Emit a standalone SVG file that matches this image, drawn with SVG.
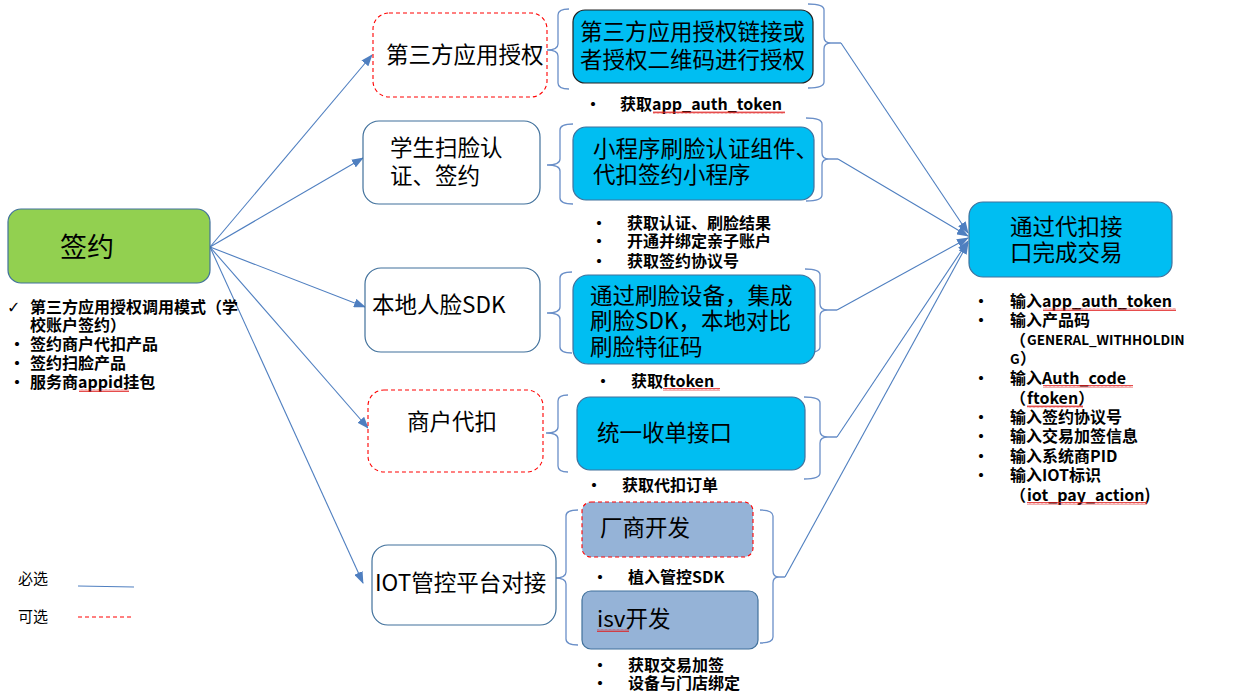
<svg xmlns="http://www.w3.org/2000/svg" width="1235" height="698" viewBox="0 0 1235 698">
<style>
text{font-family:"Noto Sans CJK SC","Microsoft YaHei",sans-serif;fill:#000}
.big{font-size:22.5px}
.note{font-size:16px;font-weight:bold}
.small{font-size:13.5px;font-weight:bold}
.leg{font-size:15px}
.solid{fill:#fff;stroke:#41719c;stroke-width:1.2}
.dash{fill:#fff;stroke:#ff0000;stroke-width:1.1;stroke-dasharray:4 3}
.cyan{fill:#00bef2;stroke:#41719c;stroke-width:1.2}
.grey{fill:#95b3d7;stroke:#41719c;stroke-width:1.2}
.brace{fill:none;stroke:#6a8fc8;stroke-width:1.3}
.conn{fill:none;stroke:#4f7fc0;stroke-width:1.1;marker-end:url(#ah)}
.wave{fill:url(#wv)}
</style>
<defs>
<marker id="ah" markerWidth="12" markerHeight="9" refX="11" refY="4.5" orient="auto" markerUnits="userSpaceOnUse">
<path d="M0,0 L12,4.5 L0,9 z" fill="#4f7fc0"/>
</marker>
<pattern id="wv" width="4" height="3" patternUnits="userSpaceOnUse">
<path d="M0,2.5 L1,0.5 L2,2.5 L3,0.5 L4,2.5" fill="none" stroke="#e02020" stroke-width="0.8"/>
</pattern>
</defs>
<rect width="1235" height="698" fill="#fff"/>

<g id="connectors">
<line class="conn" x1="210" y1="247" x2="372" y2="55"/>
<line class="conn" x1="210" y1="247" x2="363" y2="158"/>
<line class="conn" x1="210" y1="247" x2="365" y2="307"/>
<line class="conn" x1="210" y1="247" x2="368" y2="428"/>
<line class="conn" x1="210" y1="247" x2="363" y2="583"/>
<line class="conn" x1="841" y1="43" x2="968" y2="233"/>
<line class="conn" x1="838" y1="159" x2="968" y2="236"/>
<line class="conn" x1="837" y1="310" x2="968" y2="238"/>
<line class="conn" x1="837" y1="437" x2="968" y2="241"/>
<line class="conn" x1="785" y1="577" x2="968" y2="243"/>
</g>

<g id="braces">
<path class="brace" d="M569,9 Q558,9 558,15 L558,44 Q558,50 547,50 Q558,50 558,56 L558,83 Q558,89 569,89"/>
<path class="brace" d="M808,4 Q824,4 824,10 L824,37 Q824,43 831,43 L841,43 M831,43 Q824,43 824,49 L824,82 Q824,88 808,88"/>
<path class="brace" d="M573,124 Q560,124 560,130 L560,159 Q560,165 547,165 Q560,165 560,171 L560,198 Q560,204 573,204"/>
<path class="brace" d="M806,118 Q822,118 822,124 L822,153 Q822,159 829,159 L838,159 M829,159 Q822,159 822,165 L822,195 Q822,201 806,201"/>
<path class="brace" d="M572,272 Q560,272 560,278 L560,307 Q560,313 547,313 Q560,313 560,319 L560,347 Q560,353 572,353"/>
<path class="brace" d="M805,269 Q820,269 820,275 L820,304 Q820,310 828,310 L837,310 M828,310 Q820,310 820,316 L820,347 Q820,353 803,353"/>
<path class="brace" d="M568,395 Q558,395 558,401 L558,427 Q558,433 546,433 Q558,433 558,439 L558,466 Q558,472 568,472"/>
<path class="brace" d="M804,397 Q820,397 820,403 L820,431 Q820,437 828,437 L837,437 M828,437 Q820,437 820,443 L820,473 Q820,479 804,479"/>
<path class="brace" d="M578,510 Q566,510 566,516 L566,572 Q566,578 555,578 Q566,578 566,584 L566,639 Q566,645 578,645"/>
<path class="brace" d="M760,510 Q773,510 773,516 L773,571 Q773,577 779,577 L785,577 M779,577 Q773,577 773,583 L773,637 Q773,643 760,643"/>
</g>

<g id="n-qianyue">
<rect x="8" y="209" width="202" height="74" rx="13" fill="#92d050" stroke="#41719c" stroke-width="1.2"/>
<text x="60" y="257" style="font-size:27px">签约</text>
</g>

<g id="n-qianyue-notes">
<text x="7" y="313" style="font-size:16px;font-family:'DejaVu Sans',sans-serif">✓</text>
<text x="30" y="313" class="note">第三方应用授权调用模式（学</text>
<text x="30" y="331" class="note">校账户签约）</text>
<text x="9" y="350" class="note">•</text><text x="30" y="350" class="note">签约商户代扣产品</text>
<text x="9" y="369" class="note">•</text><text x="30" y="369" class="note">签约扫脸产品</text>
<text x="9" y="388" class="note">•</text><text x="30" y="388" class="note">服务商appid挂包</text>
<rect class="wave" x="79" y="389" width="50" height="3"/>
</g>

<g id="n-disanfang">
<rect class="dash" x="373" y="13" width="174" height="84" rx="16"/>
<text x="386" y="63" class="big">第三方应用授权</text>
</g>
<g id="n-xuesheng">
<rect class="solid" x="363" y="121" width="177" height="83" rx="16"/>
<text x="390" y="156" class="big">学生扫脸认</text>
<text x="390" y="184" class="big">证、签约</text>
</g>
<g id="n-bendi">
<rect class="solid" x="365" y="268" width="175" height="84" rx="16"/>
<text x="372" y="313" class="big">本地人脸SDK</text>
</g>
<g id="n-shanghu">
<rect class="dash" x="368" y="390" width="175" height="82" rx="16"/>
<text x="407" y="430" class="big">商户代扣</text>
</g>
<g id="n-iot">
<rect class="solid" x="372" y="545" width="184" height="80" rx="16"/>
<text x="375" y="591" class="big">IOT管控平台对接</text>
</g>

<g id="m-auth">
<rect x="573" y="10" width="240" height="73" rx="12" fill="#00bef2" stroke="#222" stroke-width="1.2"/>
<text x="580" y="40" class="big">第三方应用授权链接或</text>
<text x="580" y="68" class="big">者授权二维码进行授权</text>
<text x="585" y="110" class="note">•</text><text x="620" y="110" class="note">获取app_auth_token</text>
<rect class="wave" x="653" y="111" width="132" height="3"/>
</g>
<g id="m-xcx">
<rect class="cyan" x="573" y="127" width="241" height="73" rx="13"/>
<text x="593" y="157" class="big">小程序刷脸认证组件、</text>
<text x="593" y="183" class="big">代扣签约小程序</text>
<text x="591" y="229" class="note">•</text><text x="627" y="229" class="note">获取认证、刷脸结果</text>
<text x="591" y="247" class="note">•</text><text x="627" y="247" class="note">开通并绑定亲子账户</text>
<text x="591" y="267" class="note">•</text><text x="627" y="267" class="note">获取签约协议号</text>
</g>
<g id="m-sdk">
<rect class="cyan" x="573" y="275" width="242" height="89" rx="15"/>
<text x="590" y="304" class="big">通过刷脸设备，集成</text>
<text x="590" y="329" class="big">刷脸SDK，本地对比</text>
<text x="590" y="355" class="big">刷脸特征码</text>
<text x="595" y="387" class="note">•</text><text x="631" y="387" class="note">获取ftoken</text>
<rect class="wave" x="663" y="388" width="57" height="3"/>
</g>
<g id="m-tongyi">
<rect class="cyan" x="577" y="397" width="228" height="73" rx="13"/>
<text x="597" y="441" class="big">统一收单接口</text>
<text x="586" y="491" class="note">•</text><text x="622" y="491" class="note">获取代扣订单</text>
</g>
<g id="m-changshang">
<rect x="582" y="502" width="171" height="55" rx="9" fill="#95b3d7" stroke="#ff0000" stroke-width="1.1" stroke-dasharray="4 3"/>
<text x="600" y="536" class="big">厂商开发</text>
<text x="592" y="583" class="note">•</text><text x="628" y="583" class="note">植入管控SDK</text>
</g>
<g id="m-isv">
<rect class="grey" x="582" y="591" width="176" height="58" rx="9"/>
<text x="597" y="627" class="big">isv开发</text>
<rect class="wave" x="597" y="629" width="32" height="3"/>
<text x="592" y="671" class="note">•</text><text x="628" y="671" class="note">获取交易加签</text>
<text x="592" y="689" class="note">•</text><text x="628" y="689" class="note">设备与门店绑定</text>
</g>

<g id="n-jiaoyi">
<rect class="cyan" x="969" y="202" width="203" height="75" rx="14"/>
<text x="1010" y="235" class="big">通过代扣接</text>
<text x="1010" y="261" class="big">口完成交易</text>
</g>
<g id="n-jiaoyi-notes">
<text x="973" y="307" class="note">•</text><text x="1010" y="307" class="note">输入app_auth_token</text>
<rect class="wave" x="1043" y="308" width="133" height="3"/>
<text x="973" y="326" class="note">•</text><text x="1010" y="326" class="note">输入产品码</text>
<text x="1010" y="346" class="note">（</text><text x="1027" y="345" class="small">GENERAL_WITHHOLDIN</text>
<text x="1010" y="364" class="small">G</text><text x="1020" y="364" class="note">）</text>
<text x="973" y="384" class="note">•</text><text x="1010" y="384" class="note">输入Auth_code</text>
<rect class="wave" x="1043" y="385" width="90" height="3"/>
<text x="1010" y="404" class="note">（</text><text x="1027" y="404" class="note">ftoken）</text>
<rect class="wave" x="1027" y="405" width="56" height="3"/>
<text x="973" y="423" class="note">•</text><text x="1010" y="423" class="note">输入签约协议号</text>
<text x="973" y="442" class="note">•</text><text x="1010" y="442" class="note">输入交易加签信息</text>
<text x="973" y="462" class="note">•</text><text x="1010" y="462" class="note">输入系统商PID</text>
<text x="973" y="481" class="note">•</text><text x="1010" y="481" class="note">输入IOT标识</text>
<text x="1010" y="501" class="note">（</text><text x="1027" y="501" class="note">iot_pay_action)</text>
<rect class="wave" x="1027" y="502" width="120" height="3"/>
</g>

<g id="legend">
<text x="18" y="584" class="leg">必选</text>
<line x1="78" y1="586" x2="134" y2="587" stroke="#4f7fc0" stroke-width="1.2"/>
<text x="18" y="622" class="leg">可选</text>
<line x1="78" y1="617" x2="132" y2="617" stroke="#ff0000" stroke-width="1.1" stroke-dasharray="4 3"/>
</g>
</svg>
